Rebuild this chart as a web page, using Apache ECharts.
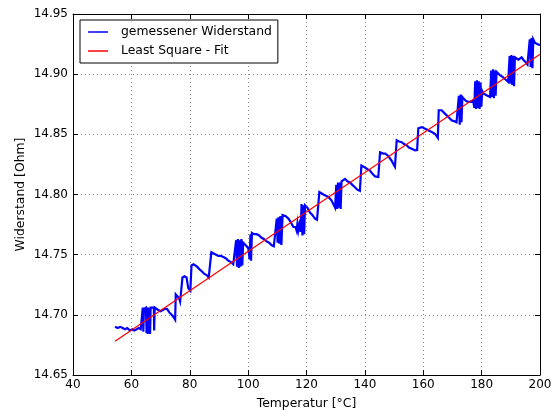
<!DOCTYPE html>
<html>
<head>
<meta charset="utf-8">
<script src="https://cdn.jsdelivr.net/npm/echarts@6/dist/echarts.min.js"></script>
<style>
  html, body { margin: 0; padding: 0; background: #fff; }
  #chart { width: 555px; height: 412px; }
</style>
</head>
<body>
<div id="chart"></div>
<script>
// Measured resistance vs. temperature (°C, Ohm)
const temperature = [
  54.4, 55.3, 56.2, 57.0, 57.8, 58.6, 59.5, 60.3, 61.0, 61.8, 62.5, 63.2,
  63.8, 63.9, 64.1, 64.3, 65.0, 65.2, 65.4, 65.6, 65.8, 66.0, 66.2, 66.4, 66.6,
  67.2, 67.7, 67.8, 68.0, 68.5, 69.2, 70.0, 70.8, 71.5, 72.2, 73.0, 73.8, 74.5, 75.0,
  75.2, 75.8, 76.3, 76.7, 77.2, 77.5, 78.2, 78.9, 79.5, 80.2,
  80.6, 81.3, 81.8, 82.5, 83.3, 84.2, 85.0, 85.8, 86.5, 87.0,
  87.4, 88.2, 89.0, 89.8, 90.6, 91.5, 92.3, 93.2, 94.0, 94.9, 95.5,
  95.9, 96.2, 96.5, 96.8, 97.1, 97.4, 97.7, 98.0, 98.3, 98.9, 99.5, 100.1,
  100.5, 100.8, 101.0, 101.3, 102.0, 102.9, 103.8, 104.6, 105.4, 106.3, 107.2, 108.0, 108.8, 109.3,
  109.8, 110.1, 110.4, 110.7, 111.0, 111.4, 111.8, 112.1, 112.9, 113.8, 114.6, 115.5, 116.2,
  116.6, 116.9, 117.2, 117.6, 118.0, 118.3, 118.6, 118.9, 119.2, 119.5, 120.3, 121.2, 122.0,
  122.9, 123.6, 124.1, 124.4, 125.1, 125.8, 126.6, 127.5, 128.6, 129.2, 129.8,
  130.2, 130.5, 130.8, 131.1, 131.4, 131.7, 132.0, 132.6, 133.2, 134.0, 134.9, 135.7, 136.6, 137.4, 138.3,
  138.8, 139.4, 140.0, 140.9, 141.7, 142.3, 142.9, 143.5, 144.0, 144.6,
  145.2, 145.8, 146.3, 147.0, 147.4, 148.0, 148.6, 149.2, 149.7, 150.3,
  150.9, 151.7, 152.6, 153.4, 154.3, 155.1, 156.0, 156.6, 157.2, 157.9,
  158.3, 158.9, 159.5, 160.3, 161.2, 162.0, 162.9, 163.5, 164.0, 164.6, 165.0,
  165.3, 165.8, 166.3, 166.9, 167.5, 168.0, 168.8, 169.7, 170.5, 171.4,
  171.9, 172.2, 172.5, 172.8, 173.1, 173.4, 173.7, 174.5, 175.4, 176.2, 177.1,
  177.5, 177.8, 178.1, 178.4, 178.7, 179.0, 179.3, 179.6, 179.9, 180.2, 180.6, 181.2, 181.7, 182.3, 182.9,
  183.3, 183.6, 183.9, 184.2, 184.5, 184.8, 185.1, 185.7, 186.3, 187.1, 188.0, 188.6, 189.1,
  189.6, 189.9, 190.2, 190.5, 190.8, 191.1, 191.4, 192.0, 192.6, 193.2, 193.7, 194.3, 195.0, 195.7, 196.2,
  196.5, 196.8, 197.1, 197.4, 197.7, 198.3, 199.1, 200.0
];
const resistance = [
  14.690, 14.689, 14.690, 14.689, 14.688, 14.689, 14.687, 14.688, 14.687, 14.688, 14.689, 14.688,
  14.688, 14.706, 14.686, 14.705, 14.706, 14.685, 14.706, 14.684, 14.706, 14.685, 14.705, 14.684, 14.706,
  14.705, 14.706, 14.687, 14.706, 14.705, 14.704, 14.703, 14.704, 14.705, 14.705, 14.702, 14.700, 14.698, 14.696,
  14.717, 14.718, 14.714, 14.711, 14.712, 14.731, 14.732, 14.731, 14.722, 14.720,
  14.741, 14.742, 14.742, 14.740, 14.738, 14.736, 14.734, 14.733, 14.731, 14.730,
  14.752, 14.751, 14.750, 14.749, 14.749, 14.748, 14.747, 14.745, 14.744, 14.742, 14.741,
  14.762, 14.740, 14.763, 14.739, 14.762, 14.740, 14.763, 14.741, 14.760, 14.759, 14.757, 14.755,
  14.746, 14.767, 14.745, 14.768, 14.767, 14.767, 14.766, 14.764, 14.763, 14.761, 14.760, 14.758, 14.757, 14.756,
  14.780, 14.760, 14.781, 14.759, 14.782, 14.758, 14.783, 14.784, 14.782, 14.780, 14.777, 14.773, 14.773,
  14.770, 14.776, 14.770, 14.775, 14.769, 14.792, 14.766, 14.791, 14.767, 14.791, 14.789, 14.785, 14.783,
  14.780, 14.779, 14.778, 14.802, 14.801, 14.800, 14.799, 14.798, 14.795, 14.792, 14.789,
  14.808, 14.788, 14.810, 14.789, 14.810, 14.788, 14.811, 14.812, 14.813, 14.811, 14.810, 14.808, 14.806, 14.804, 14.803,
  14.824, 14.823, 14.8225, 14.821, 14.820, 14.818, 14.817, 14.815, 14.8145, 14.8145,
  14.835, 14.834, 14.834, 14.834, 14.834, 14.832, 14.831, 14.828, 14.8255, 14.823,
  14.845, 14.844, 14.8435, 14.842, 14.841, 14.839, 14.838, 14.837, 14.8367, 14.837,
  14.855, 14.856, 14.856, 14.855, 14.854, 14.853, 14.852, 14.851, 14.8505, 14.849, 14.847,
  14.870, 14.869, 14.870, 14.8686, 14.867, 14.866, 14.864, 14.8617, 14.861, 14.860,
  14.859, 14.882, 14.858, 14.883, 14.860, 14.881, 14.880, 14.878, 14.877, 14.877, 14.878,
  14.872, 14.894, 14.871, 14.895, 14.872, 14.894, 14.871, 14.893, 14.873, 14.886, 14.884, 14.883, 14.8825, 14.882, 14.881,
  14.903, 14.881, 14.904, 14.880, 14.903, 14.882, 14.902, 14.901, 14.899, 14.898, 14.896, 14.895, 14.8936,
  14.915, 14.892, 14.916, 14.891, 14.915, 14.890, 14.914, 14.913, 14.912, 14.913, 14.914, 14.912, 14.910, 14.908, 14.907,
  14.929, 14.906, 14.930, 14.905, 14.929, 14.926, 14.925, 14.924
];

// Least-squares straight line, given by its two end points
const fitTemperature = [54.4, 200.0];
const fitResistance = [14.678, 14.9165];

// Axis ticks
const xTicks = [40, 60, 80, 100, 120, 140, 160, 180, 200];
const yTicks = [14.65, 14.70, 14.75, 14.80, 14.85, 14.90, 14.95];

const measured = temperature.map((t, i) => [t, resistance[i]]);
const fitted = fitTemperature.map((t, i) => [t, fitResistance[i]]);

const font = 'DejaVu Sans';
const tickStyle = { show: true, inside: true, length: 5, lineStyle: { color: '#000', width: 1 } };
const dotted = { show: true, lineStyle: { color: '#8c8c8c', type: [1, 3], width: 1 } };

const xBase = {
  type: 'value',
  min: xTicks[0], max: xTicks[xTicks.length - 1], interval: xTicks[1] - xTicks[0],
  axisLine: { show: true, onZero: false, lineStyle: { color: '#000', width: 1 } },
  axisTick: tickStyle
};
const yBase = {
  type: 'value',
  min: yTicks[0], max: yTicks[yTicks.length - 1], interval: 0.05,
  axisLine: { show: true, onZero: false, lineStyle: { color: '#000', width: 1 } },
  axisTick: tickStyle
};

const chart = echarts.init(document.getElementById('chart'), null, { renderer: 'canvas' });
chart.setOption({
  animation: false,
  backgroundColor: '#fff',
  textStyle: { fontFamily: font },
  grid: { left: 73, right: 15, top: 14, bottom: 37, containLabel: false, outerBoundsMode: 'none' },
  legend: {
    show: true,
    orient: 'vertical',
    left: 80, top: 20,
    padding: [6, 6, 6, 8],
    itemGap: 7,
    itemWidth: 20, itemHeight: 1.5,
    icon: 'rect',
    backgroundColor: '#fff',
    borderColor: '#000', borderWidth: 1, borderRadius: 0,
    textStyle: { fontFamily: font, fontSize: 12.4, color: '#000', padding: [0, 0, 0, 8] },
    data: ['gemessener Widerstand', 'Least Square - Fit']
  },
  xAxis: [
    Object.assign({}, xBase, {
      position: 'bottom',
      name: 'Temperatur [°C]', nameLocation: 'middle', nameGap: 23,
      nameMoveOverlap: false,
      nameTextStyle: { fontFamily: font, fontSize: 12.4, color: '#000' },
      axisLabel: { show: true, margin: 4, fontFamily: font, fontSize: 12, color: '#000' },
      splitLine: dotted
    }),
    Object.assign({}, xBase, {
      position: 'top',
      axisLabel: { show: false }, splitLine: { show: false }
    })
  ],
  yAxis: [
    Object.assign({}, yBase, {
      position: 'left',
      name: 'Widerstand [Ohm]', nameLocation: 'middle', nameGap: 46,
      nameMoveOverlap: false,
      nameTextStyle: { fontFamily: font, fontSize: 12.4, color: '#000' },
      axisLabel: { show: true, margin: 5, fontFamily: font, fontSize: 12, color: '#000',
                   formatter: v => v.toFixed(2) },
      splitLine: dotted
    }),
    Object.assign({}, yBase, {
      position: 'right',
      axisLabel: { show: false }, splitLine: { show: false }
    })
  ],
  series: [
    {
      name: 'gemessener Widerstand', type: 'line',
      xAxisIndex: 0, yAxisIndex: 0,
      data: measured, showSymbol: false, symbol: 'none',
      itemStyle: { color: '#0000ff' },
      lineStyle: { color: '#0000ff', width: 2.2, join: 'miter' },
      z: 2
    },
    {
      name: 'Least Square - Fit', type: 'line',
      xAxisIndex: 0, yAxisIndex: 0,
      data: fitted, showSymbol: false, symbol: 'none',
      itemStyle: { color: '#ff0000' },
      lineStyle: { color: '#ff0000', width: 1.2 },
      z: 3
    }
  ]
});
</script>
</body>
</html>
